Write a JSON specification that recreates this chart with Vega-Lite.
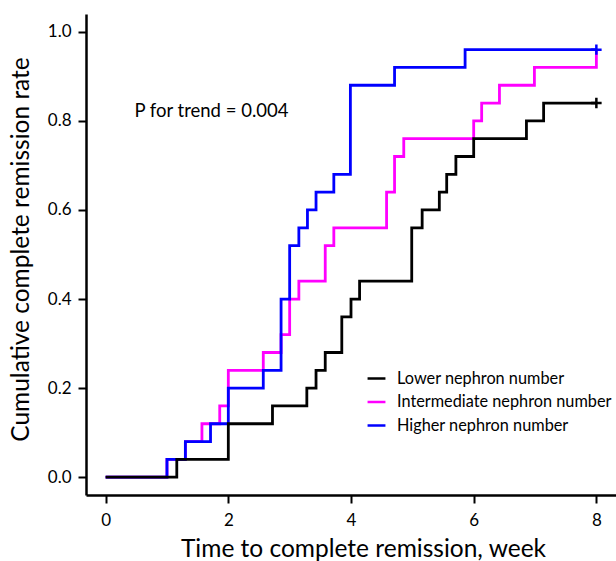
{
  "$schema": "https://vega.github.io/schema/vega-lite/v6.json",
  "width": 530,
  "height": 481,
  "autosize": {"type": "none"},
  "padding": {"left": 86, "top": 14, "right": 0, "bottom": 66},
  "config": {
    "view": {"stroke": null},
    "font": "Lato",
    "axis": {
      "domainColor": "black",
      "domainWidth": 2.5,
      "tickColor": "black",
      "tickWidth": 2,
      "tickSize": 8,
      "labelColor": "black",
      "titleColor": "black",
      "labelFontSize": 17,
      "titleFontSize": 24.5,
      "titleFontWeight": "normal",
      "grid": false
    }
  },
  "datasets": {
    "curves": [
      {"group": "Intermediate nephron number", "week": 0, "rate": 0},
      {"group": "Intermediate nephron number", "week": 1.0, "rate": 0.04},
      {"group": "Intermediate nephron number", "week": 1.3, "rate": 0.08},
      {"group": "Intermediate nephron number", "week": 1.57, "rate": 0.12},
      {"group": "Intermediate nephron number", "week": 1.86, "rate": 0.16},
      {"group": "Intermediate nephron number", "week": 2.0, "rate": 0.24},
      {"group": "Intermediate nephron number", "week": 2.57, "rate": 0.28},
      {"group": "Intermediate nephron number", "week": 2.86, "rate": 0.32},
      {"group": "Intermediate nephron number", "week": 3.0, "rate": 0.40},
      {"group": "Intermediate nephron number", "week": 3.15, "rate": 0.44},
      {"group": "Intermediate nephron number", "week": 3.58, "rate": 0.52},
      {"group": "Intermediate nephron number", "week": 3.72, "rate": 0.56},
      {"group": "Intermediate nephron number", "week": 4.58, "rate": 0.64},
      {"group": "Intermediate nephron number", "week": 4.71, "rate": 0.72},
      {"group": "Intermediate nephron number", "week": 4.86, "rate": 0.76},
      {"group": "Intermediate nephron number", "week": 6.0, "rate": 0.80},
      {"group": "Intermediate nephron number", "week": 6.13, "rate": 0.84},
      {"group": "Intermediate nephron number", "week": 6.42, "rate": 0.88},
      {"group": "Intermediate nephron number", "week": 6.99, "rate": 0.92},
      {"group": "Intermediate nephron number", "week": 8.0, "rate": 0.96},
      {"group": "Higher nephron number", "week": 0, "rate": 0},
      {"group": "Higher nephron number", "week": 1.0, "rate": 0.04},
      {"group": "Higher nephron number", "week": 1.3, "rate": 0.08},
      {"group": "Higher nephron number", "week": 1.71, "rate": 0.12},
      {"group": "Higher nephron number", "week": 2.0, "rate": 0.20},
      {"group": "Higher nephron number", "week": 2.57, "rate": 0.24},
      {"group": "Higher nephron number", "week": 2.86, "rate": 0.40},
      {"group": "Higher nephron number", "week": 3.0, "rate": 0.52},
      {"group": "Higher nephron number", "week": 3.15, "rate": 0.56},
      {"group": "Higher nephron number", "week": 3.29, "rate": 0.60},
      {"group": "Higher nephron number", "week": 3.43, "rate": 0.64},
      {"group": "Higher nephron number", "week": 3.72, "rate": 0.68},
      {"group": "Higher nephron number", "week": 3.99, "rate": 0.88},
      {"group": "Higher nephron number", "week": 4.71, "rate": 0.92},
      {"group": "Higher nephron number", "week": 5.86, "rate": 0.96},
      {"group": "Higher nephron number", "week": 8.0, "rate": 0.96},
      {"group": "Lower nephron number", "week": 0, "rate": 0},
      {"group": "Lower nephron number", "week": 1.16, "rate": 0.04},
      {"group": "Lower nephron number", "week": 2.0, "rate": 0.12},
      {"group": "Lower nephron number", "week": 2.72, "rate": 0.16},
      {"group": "Lower nephron number", "week": 3.28, "rate": 0.20},
      {"group": "Lower nephron number", "week": 3.43, "rate": 0.24},
      {"group": "Lower nephron number", "week": 3.58, "rate": 0.28},
      {"group": "Lower nephron number", "week": 3.85, "rate": 0.36},
      {"group": "Lower nephron number", "week": 4.0, "rate": 0.40},
      {"group": "Lower nephron number", "week": 4.14, "rate": 0.44},
      {"group": "Lower nephron number", "week": 4.99, "rate": 0.56},
      {"group": "Lower nephron number", "week": 5.16, "rate": 0.60},
      {"group": "Lower nephron number", "week": 5.44, "rate": 0.64},
      {"group": "Lower nephron number", "week": 5.56, "rate": 0.68},
      {"group": "Lower nephron number", "week": 5.71, "rate": 0.72},
      {"group": "Lower nephron number", "week": 6.0, "rate": 0.76},
      {"group": "Lower nephron number", "week": 6.86, "rate": 0.80},
      {"group": "Lower nephron number", "week": 7.14, "rate": 0.84},
      {"group": "Lower nephron number", "week": 8.0, "rate": 0.84}
    ],
    "censored": [
      {"group": "Higher nephron number", "week": 8.0, "rate": 0.96},
      {"group": "Lower nephron number", "week": 8.0, "rate": 0.84}
    ],
    "note": [
      {"week": 0.47, "rate": 0.823, "label": "P for trend = 0.004"}
    ]
  },
  "layer": [
    {
      "data": {"name": "curves"},
      "mark": {"type": "line", "interpolate": "step-after", "strokeWidth": 2.8},
      "encoding": {
        "x": {
          "field": "week",
          "type": "quantitative",
          "scale": {"domain": [-0.32, 8.32], "nice": false, "zero": false},
          "axis": {"values": [0, 2, 4, 6, 8], "format": "d", "labelPadding": 9, "titlePadding": 9, "titleX": 277},
          "title": "Time to complete remission, week"
        },
        "y": {
          "field": "rate",
          "type": "quantitative",
          "scale": {"domain": [-0.04, 1.04], "nice": false, "zero": false},
          "axis": {"values": [0, 0.2, 0.4, 0.6, 0.8, 1.0], "format": ".1f", "labelPadding": 7, "titlePadding": 14, "titleY": 235},
          "title": "Cumulative complete remission rate"
        },
        "color": {
          "field": "group",
          "type": "nominal",
          "scale": {
            "domain": ["Lower nephron number", "Intermediate nephron number", "Higher nephron number"],
            "range": ["black", "#ff00ff", "#0000ff"]
          },
          "legend": {
            "title": null,
            "orient": "none",
            "legendX": 280,
            "legendY": 354,
            "symbolType": "stroke",
            "symbolStrokeWidth": 2.5,
            "symbolSize": 320,
            "labelFontSize": 16.3,
            "labelColor": "black",
            "labelLimit": 0,
            "labelOffset": 10,
            "rowPadding": 4.5
          }
        }
      }
    },
    {
      "data": {"name": "censored"},
      "mark": {"type": "point", "shape": "M-1,0L1,0M0,-1L0,1", "filled": false, "size": 110, "strokeWidth": 2.5, "opacity": 1},
      "encoding": {
        "x": {"field": "week", "type": "quantitative"},
        "y": {"field": "rate", "type": "quantitative"},
        "color": {"field": "group", "type": "nominal", "legend": null}
      }
    },
    {
      "data": {"name": "note"},
      "mark": {"type": "text", "align": "left", "baseline": "middle", "fontSize": 18.5, "color": "black"},
      "encoding": {
        "x": {"field": "week", "type": "quantitative"},
        "y": {"field": "rate", "type": "quantitative"},
        "text": {"field": "label"}
      }
    }
  ]
}
